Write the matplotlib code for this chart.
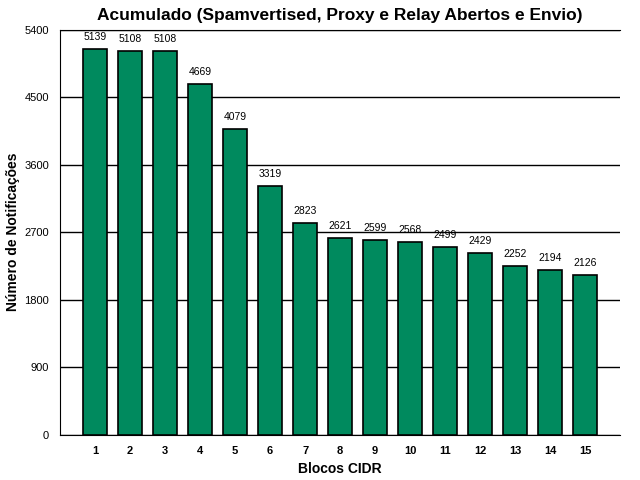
import matplotlib
matplotlib.use("Agg")
import matplotlib.pyplot as plt

blocos = [str(i) for i in range(1, 16)]
notificacoes = [5139, 5108, 5108, 4669, 4079, 3319, 2823, 2621, 2599, 2568,
                2499, 2429, 2252, 2194, 2126]
yticks = [0, 900, 1800, 2700, 3600, 4500, 5400]

plt.rcParams['font.family'] = ['Liberation Sans', 'DejaVu Sans']

fig = plt.figure(figsize=(6.4, 4.8), dpi=100)
ax = fig.add_axes([0.094, 0.094, 0.875, 0.8445])

pos = list(range(1, len(blocos) + 1))
ax.bar(pos, notificacoes, width=0.69, color='#008a5e', edgecolor='black',
       linewidth=1.2, zorder=3)
for x, v in zip(pos, notificacoes):
    ax.annotate(str(v), (x, v), xytext=(0, 5), textcoords='offset points',
                ha='center', va='bottom', fontsize=7.5, zorder=4)

ax.set_xlim(0, 16)
ax.set_ylim(0, 5400)
ax.set_yticks(yticks)
ax.set_yticklabels([str(t) for t in yticks], fontsize=8)
ax.set_xticks(pos)
ax.set_xticklabels(blocos, fontsize=8, fontweight='bold')
ax.tick_params(length=0, pad=8)
ax.yaxis.grid(True, color='black', linewidth=1, zorder=0)
ax.spines['right'].set_visible(False)

ax.set_title('Acumulado (Spamvertised, Proxy e Relay Abertos e Envio)',
             fontsize=12.5, fontweight='bold', pad=7)
ax.set_xlabel('Blocos CIDR', fontsize=10, fontweight='bold', labelpad=4)
ax.set_ylabel('Número de Notificações', fontsize=10, fontweight='bold', labelpad=3)

fig.savefig('out.png', dpi=100)
